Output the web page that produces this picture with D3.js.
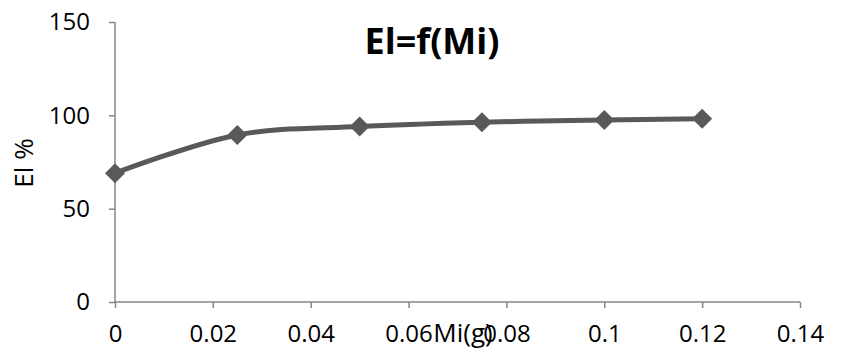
<!DOCTYPE html>
<html>
<head>
<meta charset="utf-8">
<script src="https://cdn.jsdelivr.net/npm/d3@7"></script>
<style>
  body { margin: 0; background: #fff; }
  text { font-family: "Open Sans", sans-serif; fill: #000; }
  .axis path, .axis line { stroke: #868686; stroke-width: 1.5; }
</style>
</head>
<body>
<script>
// data
var mass = [0, 0.025, 0.05, 0.075, 0.1, 0.12];
var eff = [69, 89.5, 94, 96.3, 97.5, 98.2];
var xTicks = [0, 0.02, 0.04, 0.06, 0.08, 0.1, 0.12, 0.14];
var yTicks = [0, 50, 100, 150];

function draw() {
  var svgWidth = 858, svgHeight = 351;
  var margin = {top: 22, right: 58, bottom: 49, left: 115};
  var w = svgWidth - margin.left - margin.right;
  var h = svgHeight - margin.top - margin.bottom;

  var svg = d3.select("body").append("svg")
    .attr("width", svgWidth).attr("height", svgHeight);
  var g = svg.append("g").attr("transform", "translate(" + margin.left + "," + margin.top + ")");

  var x = d3.scaleLinear().domain([0, 0.14]).range([0, w]);
  var y = d3.scaleLinear().domain([0, 150]).range([h, 0]);

  // axes
  var xa = g.append("g").attr("class", "axis")
    .attr("transform", "translate(0," + h + ")")
    .call(d3.axisBottom(x).tickValues(xTicks).tickSize(6).tickSizeOuter(6).tickPadding(17)
      .tickFormat(function(d) { return String(+d.toFixed(2)); }));
  var ya = g.append("g").attr("class", "axis")
    .call(d3.axisLeft(y).tickValues(yTicks).tickSize(6).tickSizeOuter(6).tickPadding(19));
  xa.attr("font-size", 24).attr("font-family", null);
  ya.attr("font-size", 24).attr("font-family", null);
  xa.select(".domain").attr("d", "M0,0H" + w);
  ya.select(".domain").attr("d", "M0," + h + "V0");

  var pts = mass.map(function(m, i) { return [m, eff[i]]; });

  var line = d3.line()
    .x(function(d) { return x(d[0]); })
    .y(function(d) { return y(d[1]); })
    .curve(d3.curveCatmullRom.alpha(0.5));

  g.append("path").datum(pts)
    .attr("d", line)
    .attr("fill", "none")
    .attr("stroke", "#595959")
    .attr("stroke-width", 5);

  g.selectAll(".pt").data(pts).enter().append("path")
    .attr("class", "pt")
    .attr("transform", function(d) { return "translate(" + x(d[0]) + "," + y(d[1]) + ")"; })
    .attr("d", "M0,-10L10,0L0,10L-10,0Z")
    .attr("fill", "#595959");

  // title and labels
  svg.append("text")
    .attr("x", 432).attr("y", 54)
    .attr("text-anchor", "middle")
    .style("font-size", "36px").style("font-weight", "bold")
    .text("El=f(Mi)");

  svg.append("text")
    .attr("transform", "translate(33,163) rotate(-90)")
    .attr("text-anchor", "middle")
    .style("font-size", "26px")
    .text("El %");

  svg.append("text")
    .attr("x", 463).attr("y", 342)
    .attr("text-anchor", "middle")
    .style("font-size", "26px")
    .text("Mi(g)");
}

window.onload = draw;
</script>
</body>
</html>
